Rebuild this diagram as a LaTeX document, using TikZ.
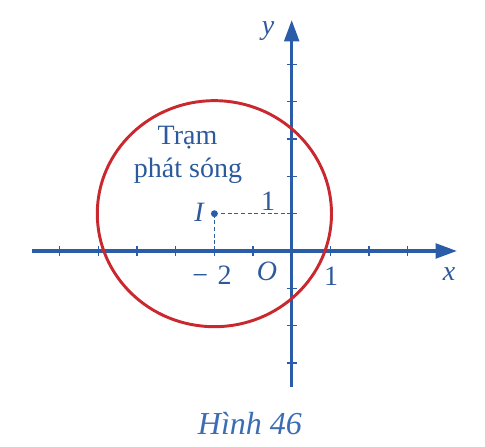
\documentclass[tikz,border=0pt]{standalone}
\usepackage{fontspec}
\setmainfont{Liberation Serif}
\usetikzlibrary{arrows.meta}
\definecolor{axisblue}{HTML}{2B5CA8}
\definecolor{textblue}{HTML}{2D5A9C}
\definecolor{capblue}{HTML}{3A6DB3}
\definecolor{circred}{HTML}{C9282E}
\begin{document}
\begin{tikzpicture}[x=28.99pt,y=27.975pt,
  axisline/.style={draw=axisblue,line width=2.4pt,-{Triangle[length=16pt,width=11pt]}},
  tickmark/.style={draw=axisblue,line width=1pt},
  guide/.style={draw=axisblue,line width=1.2pt,dash pattern=on 3pt off 2pt},
  lbl/.style={text=textblue,font=\fontsize{21}{25}\selectfont,inner sep=0pt},
  captionstyle/.style={text=capblue,font=\fontsize{24}{28}\selectfont\itshape,inner sep=0pt}]
\useasboundingbox (-7.547,-5.255) rectangle (5.001,6.729);
% axes
\coordinate (xl) at (-6.72,0);
\coordinate (xr) at (4.276,0);
\coordinate (yb) at (0,-3.646);
\coordinate (yt) at (0,6.193);
\draw[axisline] (xl) -- (xr);
\draw[axisline] (yb) -- (yt);
% ticks
\foreach \t in {-6,-5,-4,-3,-2,-1,1,2,3}
  \draw[tickmark] (\t,0) ++(0,-3.8pt) -- ++(0,7.6pt);
\foreach \t in {-3,-2,-1,1,2,3,4,5}
  \draw[tickmark] (0,\t) ++(-3.8pt,0) -- ++(7.6pt,0);
% circle
\coordinate (I) at (-2,1);
\draw[circred,line width=2.2pt] (I) circle (3.03);
% guides
\coordinate (Ix) at (-2,0);
\coordinate (Iy) at (0,1);
\draw[guide] (I) -- (Ix);
\draw[guide] (I) -- (Iy);
\fill[axisblue] (I) circle (2.6pt);
% labels
\node[lbl,anchor=base] (tram) at (-2.696,2.842) {Trạm};
\node[lbl,anchor=base] (phat) at (-2.683,1.957) {phát sóng};
\node[lbl] (Ilbl) at (-2.398,1.046) {\itshape I};
\node[lbl] (m2) at (-2.062,-0.643) {−\,\,2};
\node[lbl] (O) at (-0.639,-0.536) {\itshape O};
\node[lbl] (one) at (1.017,-0.670) {1};
\node[lbl] (xlbl) at (4.07,-0.617) {\itshape x};
\node[lbl] (oney) at (-0.613,1.34) {1};
\node[lbl] (ylbl) at (-0.613,5.898) {\itshape y};
\node[captionstyle,anchor=base] (caption) at (-1.08,-4.933) {Hình 46};
\end{tikzpicture}
\end{document}
